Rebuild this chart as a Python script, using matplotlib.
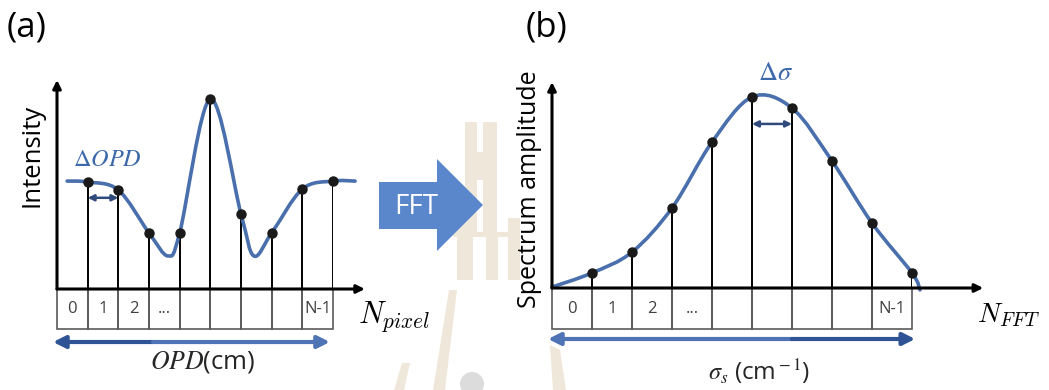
import matplotlib.pyplot as plt
import numpy as np
from matplotlib.path import Path
from matplotlib.patches import PathPatch, Polygon, Rectangle, Circle

plt.rcParams['font.family'] = ['Open Sans', 'DejaVu Sans']
plt.rcParams['mathtext.fontset'] = 'stix'

# (a) interferogram: sampled intensity at each OPD step (peak = 1)
opd_index = np.arange(1, 10)
intensity = [0.563, 0.521, 0.295, 0.295, 1.0, 0.395, 0.295, 0.526, 0.568]
opd_curve_x = [0.33, 1, 2, 3, 3.62, 4, 5, 6, 6.42, 7, 8, 9, 9.72]
opd_curve_y = [0.568, 0.563, 0.521, 0.295, 0.174, 0.295, 1.0, 0.395, 0.174,
               0.295, 0.526, 0.568, 0.568]
opd_cells = ['0', '1', '2', '...', '', '', '', '', 'N-1']

# (b) spectrum: amplitude at each FFT bin (peak = 1)
fft_index = np.arange(1, 10)
amplitude = [0.079, 0.188, 0.419, 0.764, 1.0, 0.942, 0.665, 0.340, 0.079]
spec_curve_x = [0, 1, 2, 3, 4, 5, 6, 7, 8, 9, 9.2]
spec_curve_y = [0.005, 0.079, 0.188, 0.419, 0.764, 1.0, 0.942, 0.665, 0.340,
                0.079, -0.01]
fft_cells = ['0', '1', '2', '...', '', '', '', '', 'N-1']

CURVE = '#4a6fad'
DARK = '#2f5496'
LIGHT = '#4f74b5'
NAVY = '#2f4a7a'
W, H = 1049, 390


def smooth_path(xs, ys):
    # catmull-rom through the knots, drawn as cubic beziers
    pts = np.column_stack([xs, ys]).astype(float)
    ext = np.vstack([pts[0], pts, pts[-1]])
    verts = [pts[0]]
    codes = [Path.MOVETO]
    for i in range(1, len(ext) - 2):
        p0, p1, p2, p3 = ext[i - 1], ext[i], ext[i + 1], ext[i + 2]
        verts += [p1 + (p2 - p0) / 6, p2 - (p3 - p1) / 6, p2]
        codes += [Path.CURVE4] * 3
    return Path(verts, codes)


def arrow(ax, start, end, color='k', lw=2.2, style='-|>', ms=12):
    ax.annotate('', xy=end, xytext=start, annotation_clip=False,
                arrowprops=dict(arrowstyle=style, lw=lw, color=color,
                                mutation_scale=ms, shrinkA=0, shrinkB=0))


def draw_panel(ax, idx, vals, cx, cy, cells, cell_h, ytop, xend):
    ax.set_xlim(0, 9)
    ax.set_ylim(0, 1)
    ax.set_axis_off()
    ax.patch.set_visible(False)
    ax.add_patch(PathPatch(smooth_path(cx, cy), fill=False, ec=CURVE,
                           lw=2.6, clip_on=False, zorder=3,
                           capstyle='round'))
    ax.vlines(idx, 0, vals, color='k', lw=1.4, zorder=2)
    ax.plot(idx, vals, 'o', color='#1a1a1a', ms=6.5, zorder=4,
            clip_on=False)
    for i, lab in enumerate(cells):
        ax.add_patch(Rectangle((i, -cell_h), 1, cell_h, fill=False,
                               ec='#5a5a5a', lw=1.2, clip_on=False))
        ax.text(i + 0.5, -cell_h / 2, lab, ha='center', va='center',
                fontsize=12, color='#404040')
    arrow(ax, (0, 0), (0, ytop))
    arrow(ax, (0, 0), (xend, 0))


fig = plt.figure(figsize=(W / 100, H / 100), dpi=100)

# background layer in pixel coords: watermark + FFT arrow + panel labels
bg = fig.add_axes([0, 0, 1, 1], zorder=-1)
bg.set_xlim(0, W)
bg.set_ylim(H, 0)
bg.set_axis_off()
beige = '#efe8da'
for x0, y0, w, h in [(465, 122, 12, 111), (483, 122, 14, 111),
                     (477, 152, 6, 28), (453, 232, 67, 5),
                     (457, 200, 16, 80), (486, 237, 12, 43),
                     (508, 218, 12, 62)]:
    bg.add_patch(Rectangle((x0, y0), w, h, color=beige, lw=0))
for poly in [[(433, 390), (445, 390), (457, 290), (449, 290)],
             [(394, 390), (404, 390), (410, 363), (402, 363)],
             [(553, 390), (566, 390), (560, 350), (550, 345)]]:
    bg.add_patch(Polygon(poly, color=beige, lw=0))
bg.add_patch(Circle((472, 384), 12, color='#dcdcdc', lw=0))
bg.add_patch(Polygon([(379, 182), (437, 182), (437, 159), (483, 205),
                      (437, 251), (437, 229), (379, 229)],
                     color='#5a86cc', lw=0, zorder=3))
bg.text(416, 207, 'FFT', color='white', fontsize=20, ha='center',
        va='center', zorder=4)
bg.text(7, 27, '(a)', fontsize=25, ha='left', va='center')
bg.text(526, 27, '(b)', fontsize=25, ha='left', va='center')

# panel (a)
ax1 = fig.add_axes([57 / W, (H - 289) / H, 276 / W, 190 / H])
draw_panel(ax1, opd_index, intensity, opd_curve_x, opd_curve_y, opd_cells,
           cell_h=0.2105, ytop=1.1, xend=10.04)
ax1.text(-0.8, 0.705, 'Intensity', rotation=90, ha='center', va='center',
         fontsize=18.5)
ax1.text(0.52, 0.647, r'$\Delta OPD$', color='#3d68aa', fontsize=17.5,
         ha='left', va='baseline')
arrow(ax1, (1, 0.48), (2, 0.48), color=NAVY, lw=1.8, style='<|-|>', ms=9)
arrow(ax1, (3.13, -0.279), (-0.13, -0.279), color=DARK, lw=3, ms=18)
arrow(ax1, (3.13, -0.279), (8.9, -0.279), color=LIGHT, lw=3, ms=18)
ax1.text(3.03, -0.416, r'$OPD$(cm)', fontsize=18.5, ha='left',
         va='baseline', color='#262626')
ax1.text(9.81, -0.179, r'$N_{pixel}$', math_fontfamily='cm', fontsize=22,
         ha='left', va='baseline')

# panel (b)
ax2 = fig.add_axes([552 / W, (H - 288) / H, 360 / W, 191 / H])
draw_panel(ax2, fft_index, amplitude, spec_curve_x, spec_curve_y, fft_cells,
           cell_h=0.215, ytop=1.078, xend=10.78)
ax2.text(-0.57, 0.516, 'Spectrum amplitude', rotation=90, ha='center',
         va='center', fontsize=18)
ax2.text(5.15, 1.089, r'$\Delta\sigma$', color='#3d68aa', fontsize=19,
         ha='left', va='baseline')
arrow(ax2, (5, 0.859), (6, 0.859), color=NAVY, lw=1.8, style='<|-|>', ms=9)
arrow(ax2, (6.0, -0.267), (-0.1, -0.267), color=LIGHT, lw=3, ms=18)
arrow(ax2, (6.0, -0.267), (9.08, -0.267), color=DARK, lw=3, ms=18)
ax2.text(3.9, -0.482, r'$\sigma_s$ (cm$^{\rm -1}$)', fontsize=17.5,
         ha='left', va='baseline', color='#262626')
ax2.text(10.63, -0.178, r'$N_{FFT}$', math_fontfamily='cm', fontsize=20,
         ha='left', va='baseline')

fig.savefig('out.png', dpi=100)
